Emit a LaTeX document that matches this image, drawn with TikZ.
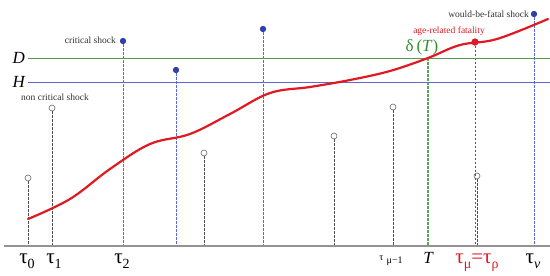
\documentclass[tikz,border=0pt]{standalone}
\usepackage{fontspec}
\setmainfont{Liberation Serif}
\definecolor{critblue}{RGB}{45,65,170}
\definecolor{shockblue}{RGB}{85,105,225}
\definecolor{hblue}{RGB}{95,105,205}
\definecolor{dgreen}{RGB}{85,155,75}
\definecolor{tgreen}{RGB}{45,145,45}
\definecolor{curvered}{RGB}{225,25,35}
\newcommand{\mysub}[1]{\raisebox{-0.6ex}{\fontsize{14}{15}\selectfont #1}}
\begin{document}
\begin{tikzpicture}[x=1pt,y=-1pt,
  lbl/.style={font=\fontsize{9.5}{10}\selectfont, text=black!80, inner sep=0pt},
  taulbl/.style={font=\fontsize{21}{22}\selectfont, anchor=base, inner sep=0pt},
  bigital/.style={font=\fontsize{17}{18}\selectfont\itshape, inner sep=0pt},
  opendot/.style={circle, draw=black!60, fill=white, line width=0.6pt, inner sep=0pt, minimum size=6pt},
  critdot/.style={circle, fill=critblue, inner sep=0pt, minimum size=6pt},
  gshock/.style={draw=black!70, dash pattern=on 2.5pt off 1.5pt, line width=0.6pt},
  bshock/.style={draw=shockblue, dash pattern=on 2.5pt off 1.5pt, line width=0.6pt},
]
\useasboundingbox (0,0) rectangle (550,276);

% axis
\coordinate (ax0) at (4,246);
\coordinate (ax1) at (550,246);

% shock markers
\node[opendot] (s0) at (28,178) {};
\node[opendot] (s1) at (52,108) {};
\node[critdot] (s2) at (123,41) {};
\node[critdot] (s3) at (176,70) {};
\node[opendot] (s4) at (204,153) {};
\node[critdot] (s5) at (263,29) {};
\node[opendot] (s6) at (334,136) {};
\node[opendot] (s7) at (393,107) {};
\node[opendot] (s8) at (477,176) {};
\node[critdot] (s9) at (534,14) {};
\node[circle, fill=curvered, inner sep=0pt, minimum size=7pt] (fat) at (475,42) {};
\coordinate (dT) at (428,58);

\foreach \n/\x in {s0/28,s1/52,s4/204,s6/334,s7/393,s8/477}
  \draw[gshock] (\n.south) -- (\x,246);
\foreach \n/\x in {s2/123,s3/176,s5/263,s9/534}
  \draw[bshock] (\n.south) -- (\x,246);
\draw[draw=curvered, dash pattern=on 2.5pt off 1.5pt, line width=0.6pt] (fat.south) -- (475,246);
\draw[draw=tgreen!80, dash pattern=on 2.5pt off 1.5pt, line width=1.1pt] (dT) -- (428,246);

% D and H levels
\node[bigital, anchor=east] (Dl) at (25,58) {D};
\node[bigital, anchor=east] (Hl) at (25,82) {H};
\coordinate (Ds) at (28,58);
\coordinate (De) at (550,58);
\coordinate (Hs) at (28,82);
\coordinate (He) at (550,82);
\draw[dgreen, line width=0.8pt] (Ds) -- (De);
\draw[hblue, line width=0.8pt] (Hs) -- (He);

\draw[gray!85, line width=1.2pt] (ax0) -- (ax1);

% curve
\draw[curvered, line width=2.2pt, line cap=round] plot[smooth, tension=0.6] coordinates {
 (28,219) (70,199) (110,169) (150,144) (190,134) (230,114) (270,93) (310,87)
 (350,80) (390,71) (428,58) (460,45) (497,39) (548,19)};

\node[critdot] at (s2) {};
\node[critdot] at (s3) {};
\node[critdot] at (s5) {};
\node[critdot] at (s9) {};
\node[circle, fill=curvered, inner sep=0pt, minimum size=7pt] at (fat) {};

% labels
\node[lbl, anchor=east] (lc) at (116,40) {critical shock};
\node[lbl] (lnc) at (55,97) {non critical shock};
\node[lbl, anchor=east] (lw) at (529,14) {would-be-fatal shock};
\node[lbl, text=curvered] (la) at (449,31) {age-related fatality};
\node[inner sep=0pt, text=tgreen, font=\fontsize{17}{18}\selectfont] (ld) at (422,47) {δ\,(\textit{T})};

% time labels
\node[taulbl] (t0) at (27,263) {τ\mysub{0}};
\node[taulbl] (t1) at (54,263) {τ\mysub{1}};
\node[taulbl] (t2) at (122,263) {τ\mysub{2}};
\node[anchor=base, inner sep=0pt, font=\fontsize{10}{11}\selectfont] (tm1) at (391,263) {\raisebox{0.6ex}{τ}\,\,μ−1};
\node[bigital, anchor=base] (tT) at (428,263) {T};
\node[taulbl, text=curvered] (tmu) at (477,263) {τ\mysub{μ}=τ\mysub{ρ}};
\node[taulbl] (tnu) at (533,263) {τ\mysub{\itshape ν}};
\end{tikzpicture}
\end{document}
